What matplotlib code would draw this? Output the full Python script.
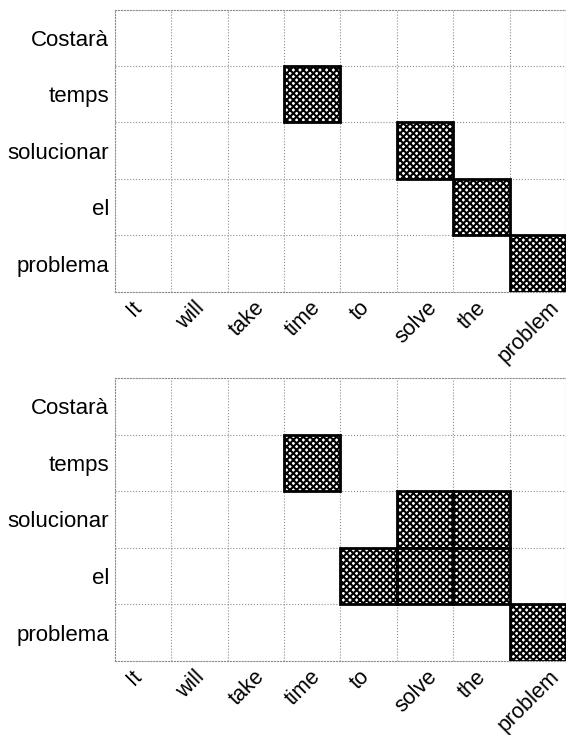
import matplotlib
matplotlib.use('Agg')
import matplotlib.pyplot as plt
import matplotlib.transforms as mtransforms

plt.rcParams['font.family'] = ['Liberation Sans', 'DejaVu Sans']
plt.rcParams['hatch.linewidth'] = 1.5

# source (English) and target (Catalan) words
src_words = ['It', 'will', 'take', 'time', 'to', 'solve', 'the', 'problem']
tgt_words = ['Costarà', 'temps', 'solucionar', 'el', 'problema']

# alignment links as (source index, target index)
top_src = [3, 5, 6, 7]
top_tgt = [1, 2, 3, 4]

bottom_src = [3, 5, 6, 4, 5, 6, 7]
bottom_tgt = [1, 2, 2, 3, 3, 3, 4]

fig = plt.figure(figsize=(5.66, 7.35), dpi=100)
ax1 = fig.add_axes([0.203, 0.603, 0.797, 0.384])
ax2 = fig.add_axes([0.203, 0.1007, 0.797, 0.385])


def draw_alignment(ax, xs, ys):
    ax.bar(xs, [1] * len(xs), bottom=[y - 0.5 for y in ys], width=1.0,
           color='white', edgecolor='black', hatch='xxxxx', linewidth=2,
           zorder=3)
    ax.set_xlim(-0.5, len(src_words) - 0.5)
    ax.set_ylim(len(tgt_words) - 0.5, -0.5)
    ax.set_xticks(range(len(src_words)))
    ax.set_yticks(range(len(tgt_words)))
    ax.set_yticklabels(tgt_words, fontsize=16)
    ax.set_xticks([i - 0.5 for i in range(1, len(src_words))], minor=True)
    ax.set_yticks([i - 0.5 for i in range(1, len(tgt_words))], minor=True)
    ax.grid(True, which='minor', linestyle=':', color='0.55', linewidth=0.8)
    ax.tick_params(which='both', length=0)
    ax.tick_params(axis='y', pad=4)
    ax.tick_params(axis='x', pad=4)
    offset = mtransforms.ScaledTranslation(-0.09, 0, fig.dpi_scale_trans)
    labels = ax.set_xticklabels(src_words, fontsize=15.5, rotation=45,
                                ha='center')
    for lab in labels:
        lab.set_transform(lab.get_transform() + offset)
    for sp in ax.spines.values():
        sp.set_linestyle(':')
        sp.set_color('0.55')
        sp.set_linewidth(0.8)


draw_alignment(ax1, top_src, top_tgt)
draw_alignment(ax2, bottom_src, bottom_tgt)

plt.savefig('out.png', dpi=100)
